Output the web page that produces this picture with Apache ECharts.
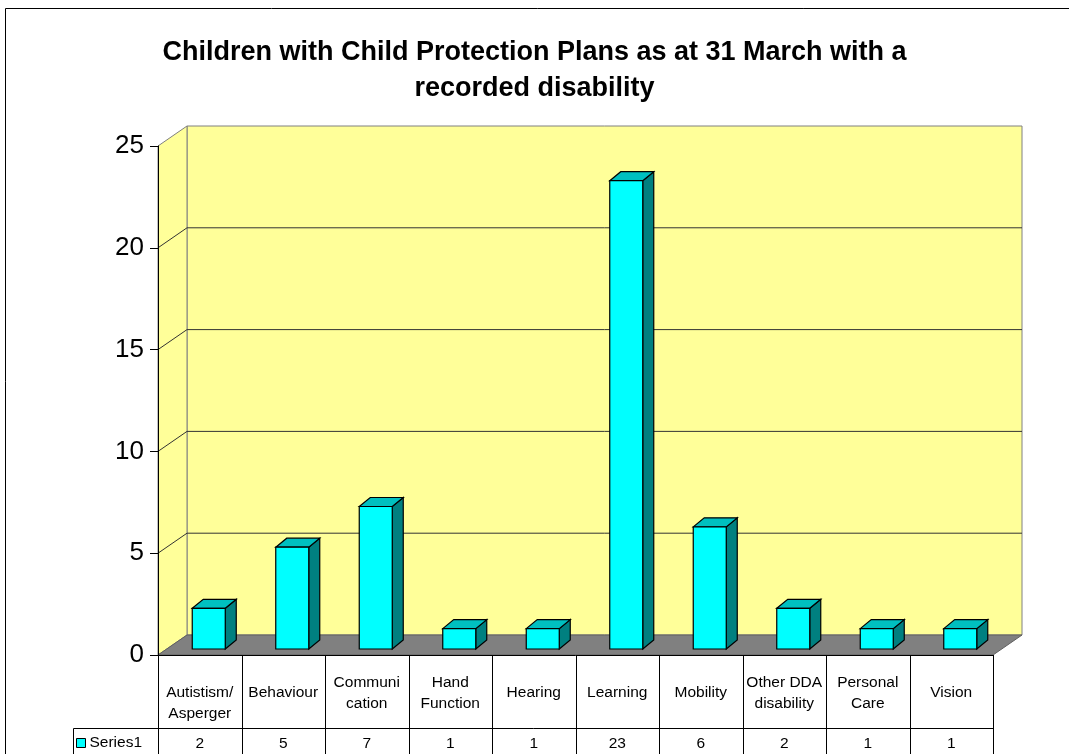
<!DOCTYPE html>
<html><head><meta charset="utf-8">
<script src="https://cdn.jsdelivr.net/npm/echarts@6/dist/echarts.min.js"></script>
<style>html,body{margin:0;padding:0;background:#fff}#c{width:1069px;height:754px}</style>
</head><body><div id="c"></div>
<script>
// ---- data ----
const titleLines = ['Children with Child Protection Plans as at 31 March with a', 'recorded disability'];
const categories = ['\nAutistism/\nAsperger', 'Behaviour', 'Communi\ncation', 'Hand\nFunction', 'Hearing', 'Learning', 'Mobility', 'Other DDA\ndisability', 'Personal\nCare', 'Vision'];
const seriesName = 'Series1';
const values = [2, 5, 7, 1, 1, 23, 6, 2, 1, 1];
const yMin = 0, yMax = 25, yStep = 5;
const yTicks = [5, 10, 15, 20];

// ---- styling constants ----
const FONT = '"Liberation Sans", Arial, sans-serif';
const WALL = [29, -20];      // depth offset of the back wall
const BAR_OFF = [9, -6];     // offset of the bar's front face into the floor
const BAR_DEPTH = [11, -9];  // bar depth
const BAR_W = 33;
const ROW1 = 73;             // height of the category row of the data table
const LEGEND_LEFT = 75;

const chart = echarts.init(document.getElementById('c'), null, {renderer: 'canvas'});

function frameItem(params, api) {
  const n = categories.length;
  const bw = api.size([1, 0])[0];
  const x0 = api.coord([0, yMin])[0] - bw / 2;
  const x1 = api.coord([n - 1, yMin])[0] + bw / 2;
  const y0 = api.coord([0, yMin])[1];
  const yT = api.coord([0, yMax])[1];
  const [dx, dy] = WALL;
  const kids = [];
  kids.push({type: 'polygon', shape: {points: [[x0 + dx, yT + dy], [x1 + dx, yT + dy], [x1 + dx, y0 + dy], [x0 + dx, y0 + dy]]},
    style: {fill: '#FFFF99', stroke: '#808080', lineWidth: 1}});
  kids.push({type: 'polygon', shape: {points: [[x0, y0], [x0 + dx, y0 + dy], [x0 + dx, yT + dy], [x0, yT]]},
    style: {fill: '#FFFF99', stroke: '#808080', lineWidth: 1}});
  yTicks.forEach(v => {
    const y = api.coord([0, v])[1];
    kids.push({type: 'polyline', shape: {points: [[x0, y], [x0 + dx, y + dy], [x1 + dx, y + dy]]},
      style: {fill: null, stroke: '#333', lineWidth: 1}});
  });
  kids.push({type: 'polygon', shape: {points: [[x0, y0], [x0 + dx, y0 + dy], [x1 + dx, y0 + dy], [x1, y0]]},
    style: {fill: '#808080', stroke: '#606060', lineWidth: 1}});
  const yB = 760;
  for (let k = 0; k <= n; k++) {
    const x = Math.round(x0 + k * bw) + 0.5;
    kids.push({type: 'line', shape: {x1: x, y1: y0, x2: x, y2: yB}, style: {stroke: '#000', lineWidth: 1}});
  }
  const yr = Math.round(y0 + ROW1) + 0.5;
  kids.push({type: 'line', shape: {x1: LEGEND_LEFT - 2 + 0.5, y1: yr, x2: x1, y2: yr}, style: {stroke: '#000', lineWidth: 1}});
  kids.push({type: 'line', shape: {x1: LEGEND_LEFT - 2 + 0.5, y1: yr, x2: LEGEND_LEFT - 2 + 0.5, y2: yB}, style: {stroke: '#000', lineWidth: 1}});
  return {type: 'group', children: kids};
}

function barItem(params, api) {
  const i = api.value(0), v = api.value(1);
  const base = api.coord([i, yMin]), top = api.coord([i, v]);
  const xl = base[0] + BAR_OFF[0] - BAR_W / 2, xr = xl + BAR_W;
  const yb = base[1] + BAR_OFF[1], yt = top[1] + BAR_OFF[1];
  const [ddx, ddy] = BAR_DEPTH;
  const st = {stroke: '#000', lineWidth: 1.2};
  return {type: 'group', children: [
    {type: 'polygon', shape: {points: [[xr, yb], [xr + ddx, yb + ddy], [xr + ddx, yt + ddy], [xr, yt]]}, style: Object.assign({fill: '#008080'}, st)},
    {type: 'polygon', shape: {points: [[xl, yt], [xl + ddx, yt + ddy], [xr + ddx, yt + ddy], [xr, yt]]}, style: Object.assign({fill: '#00C0C0'}, st)},
    {type: 'rect', shape: {x: xl, y: yt, width: BAR_W, height: yb - yt}, style: Object.assign({fill: '#00FFFF'}, st)}
  ]};
}

function valueItem(params, api) {
  const i = api.value(0), v = api.value(1);
  const base = api.coord([i, yMin]);
  return {type: 'text', x: base[0], y: base[1] + ROW1 + 16,
    style: {text: String(v), fill: '#000', font: '15.5px ' + FONT, align: 'center', verticalAlign: 'middle'}};
}

const barData = values.map((v, i) => [i, v]);

chart.setOption({
  animation: false,
  backgroundColor: '#fff',
  title: {
    text: titleLines.join('\n'),
    left: 'center', top: 35, padding: [0, 0, 0, 11],
    textStyle: {fontFamily: FONT, fontSize: 27, fontWeight: 'bold', color: '#000', lineHeight: 36}
  },
  legend: {
    data: [seriesName], left: 76, top: 735, padding: 0,
    itemWidth: 9, itemHeight: 9, itemGap: 4, icon: 'rect',
    itemStyle: {borderColor: '#000', borderWidth: 1},
    textStyle: {fontFamily: FONT, fontSize: 15.5, color: '#000', padding: [0, 0, 0, -1]}
  },
  grid: {left: 158, right: 76, top: 146, bottom: 99},
  xAxis: {
    type: 'category', data: categories,
    axisLine: {show: true, lineStyle: {color: '#000', width: 1}},
    axisTick: {show: false},
    axisLabel: {interval: 0, fontFamily: FONT, fontSize: 15.5, lineHeight: 21, color: '#000', verticalAlign: 'middle', margin: 38},
    z: 10
  },
  yAxis: {
    type: 'value', min: yMin, max: yMax, interval: yStep,
    axisLine: {show: true, lineStyle: {color: '#000', width: 1}},
    axisTick: {show: true, length: 8, lineStyle: {color: '#000'}},
    axisLabel: {fontFamily: FONT, fontSize: 26, color: '#000', margin: 14},
    splitLine: {show: false},
    z: 10
  },
  graphic: [{type: 'rect', shape: {x: 5.5, y: 8.5, width: 1200, height: 900}, style: {fill: null, stroke: '#000', lineWidth: 1}, z: 100}],
  series: [
    {type: 'custom', name: 'frame', renderItem: frameItem, data: [[0, 0]], clip: false, silent: true, z: 1},
    {type: 'custom', name: seriesName, renderItem: barItem, data: barData, clip: false, z: 2, itemStyle: {color: '#00FFFF'}},
    {type: 'custom', name: 'tableValues', renderItem: valueItem, data: barData, clip: false, z: 3}
  ]
});
</script>
</body></html>
